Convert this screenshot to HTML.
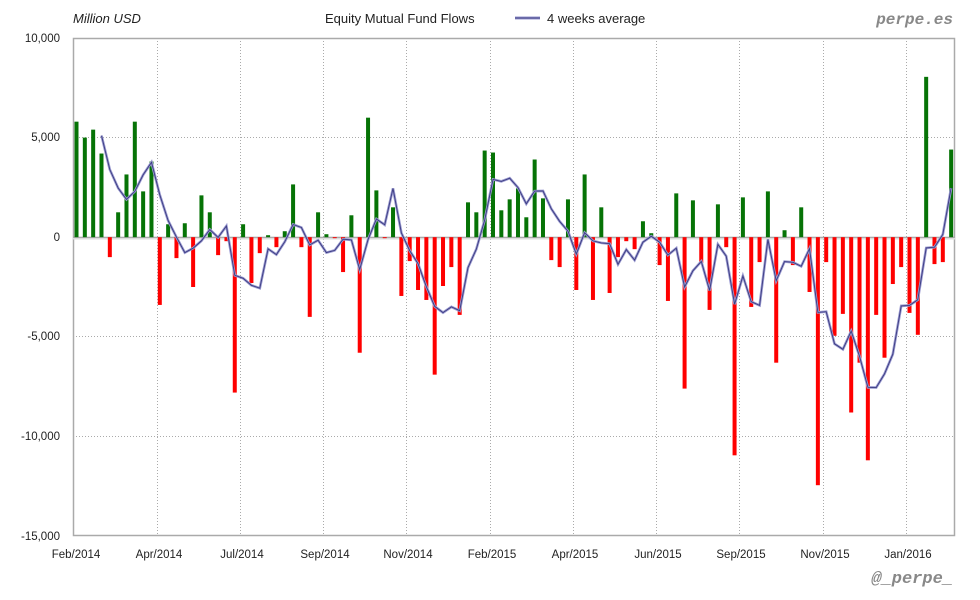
<!DOCTYPE html>
<html><head><meta charset="utf-8"><style>
body{margin:0;background:#fff;}
svg{display:block;font-family:"Liberation Sans",sans-serif;}
</style></head><body>
<svg id="c" width="980" height="600" xmlns="http://www.w3.org/2000/svg">
<rect width="980" height="600" fill="#fff"/>
<g id="grid" stroke="#aaa" stroke-width="1" stroke-dasharray="1,2">
<line x1="73" y1="137.5" x2="955" y2="137.5"/>
<line x1="73" y1="336.5" x2="955" y2="336.5"/>
<line x1="73" y1="436.5" x2="955" y2="436.5"/>
<line x1="157.5" y1="38" x2="157.5" y2="536"/>
<line x1="240.5" y1="38" x2="240.5" y2="536"/>
<line x1="323.5" y1="38" x2="323.5" y2="536"/>
<line x1="406.5" y1="38" x2="406.5" y2="536"/>
<line x1="490.5" y1="38" x2="490.5" y2="536"/>
<line x1="573.5" y1="38" x2="573.5" y2="536"/>
<line x1="656.5" y1="38" x2="656.5" y2="536"/>
<line x1="739.5" y1="38" x2="739.5" y2="536"/>
<line x1="823.5" y1="38" x2="823.5" y2="536"/>
<line x1="906.5" y1="38" x2="906.5" y2="536"/>
</g>
<rect x="73.5" y="38.5" width="881" height="497" fill="none" stroke="#aaa" stroke-width="1.5"/>
<line x1="73" y1="238.5" x2="955" y2="238.5" stroke="#ddd" stroke-width="2"/>
<line x1="73" y1="237.2" x2="955" y2="237.2" stroke="#999" stroke-width="1"/>
<g id="bars"></g>
<g id="line"></g>
<g font-size="11.5" fill="#222" text-anchor="end">
<text x="60" y="42">10,000</text>
<text x="60" y="141">5,000</text>
<text x="60" y="241">0</text>
<text x="60" y="340">-5,000</text>
<text x="60" y="440">-10,000</text>
<text x="60" y="540">-15,000</text>
</g>
<g font-size="11.5" fill="#222" text-anchor="middle">
<text x="76" y="558">Feb/2014</text>
<text x="159" y="558">Apr/2014</text>
<text x="242" y="558">Jul/2014</text>
<text x="325" y="558">Sep/2014</text>
<text x="408" y="558">Nov/2014</text>
<text x="492" y="558">Feb/2015</text>
<text x="575" y="558">Apr/2015</text>
<text x="658" y="558">Jun/2015</text>
<text x="741" y="558">Sep/2015</text>
<text x="825" y="558">Nov/2015</text>
<text x="908" y="558">Jan/2016</text>
</g>
<text x="73" y="23" font-size="13" font-style="italic" fill="#222">Million USD</text>
<text x="325" y="23" font-size="13" fill="#222">Equity Mutual Fund Flows</text>
<line x1="515" y1="18" x2="540" y2="18" stroke="#9a9ad0" stroke-width="3"/>
<line x1="515" y1="18" x2="540" y2="18" stroke="#3a3a80" stroke-width="1"/>
<text x="547" y="23" font-size="13" fill="#222">4 weeks average</text>
<text x="953" y="24" font-size="16" font-weight="bold" font-style="italic" fill="#888" text-anchor="end" font-family="Liberation Mono, monospace">perpe.es</text>
<text x="953" y="583" font-size="17" font-weight="bold" font-style="italic" fill="#888" text-anchor="end" font-family="Liberation Mono, monospace">@_perpe_</text>
</svg>
<script>
var v=[5800,5000,5400,4200,-1000,1250,3150,5800,2300,3800,-3400,650,-1050,700,-2500,2100,1250,-900,-200,-7800,650,-2300,-800,100,-500,300,2650,-500,-4000,1250,150,-50,-1750,1100,-5800,6000,2350,-50,1500,-2950,-1200,-2650,-3150,-6900,-2450,-1500,-3900,1750,1250,4350,4250,1350,1900,2450,1000,3900,1950,-1150,-1500,1900,-2650,3150,-3150,1500,-2800,-1000,-200,-600,800,200,-1400,-3200,2200,-7600,1850,-1300,-3650,1650,-500,-10950,2000,-3500,-1250,2300,-6300,350,-1400,1500,-2750,-12450,-1250,-4950,-3850,-8800,-6300,-11200,-3900,-6050,-2350,-1500,-3800,-4900,8050,-1350,-1250,4400];
var NS="http://www.w3.org/2000/svg";
function X(i){return 76.5+8.33*i;}
function Y(val){return 237.2-val*0.01992;}
var b=document.getElementById('bars');
v.forEach(function(val,i){var r=document.createElementNS(NS,'rect');var y0=Y(0),y1=Y(val);
r.setAttribute('x',X(i)-2);r.setAttribute('width',4);r.setAttribute('y',Math.min(y0,y1));r.setAttribute('height',Math.abs(y1-y0));
r.setAttribute('fill',val>=0?'#067306':'#f00');b.appendChild(r);});
var pts=[];for(var i=3;i<v.length;i++){var a=(v[i]+v[i-1]+v[i-2]+v[i-3])/4;pts.push(X(i).toFixed(1)+','+Y(a).toFixed(1));}
var g=document.getElementById('line');
[['#9a9ad0',2.6],['#3a3a80',0.9]].forEach(function(s){var p=document.createElementNS(NS,'polyline');p.setAttribute('points',pts.join(' '));p.setAttribute('fill','none');p.setAttribute('stroke',s[0]);p.setAttribute('stroke-width',s[1]);g.appendChild(p);});
</script>
</body></html>
